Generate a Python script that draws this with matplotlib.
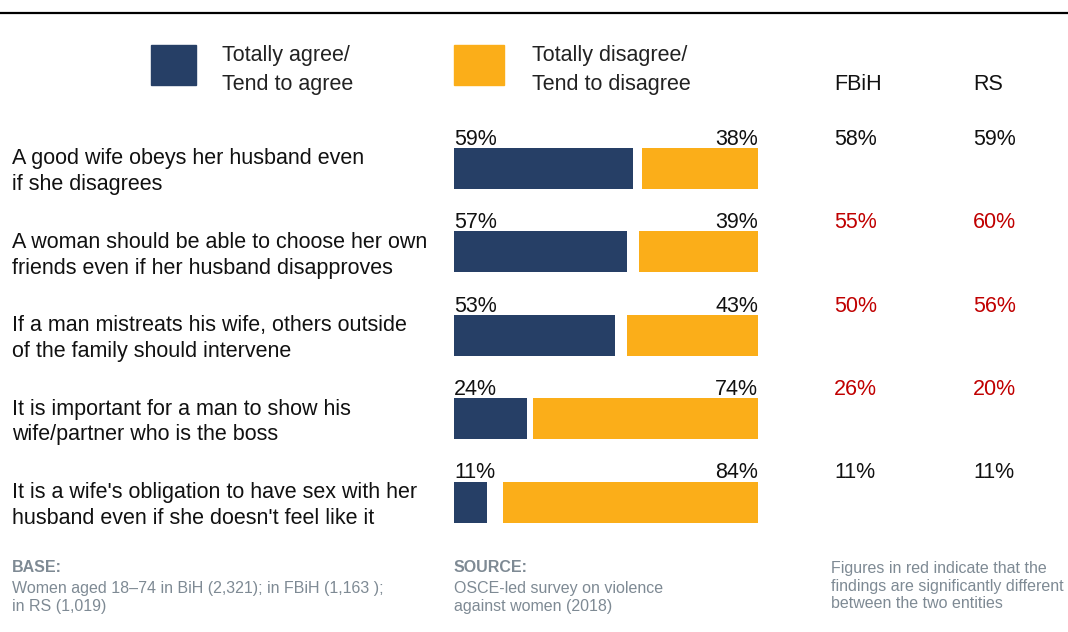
import matplotlib
matplotlib.use('Agg')
import matplotlib.pyplot as plt
from matplotlib.patches import Rectangle
from matplotlib.lines import Line2D
import matplotlib.transforms as mtransforms

plt.rcParams['font.family'] = ['Liberation Sans', 'DejaVu Sans']

# Survey statements and shares (%)
statements = [
    'A good wife obeys her husband even\nif she disagrees',
    'A woman should be able to choose her own\nfriends even if her husband disapproves',
    'If a man mistreats his wife, others outside\nof the family should intervene',
    'It is important for a man to show his\nwife/partner who is the boss',
    "It is a wife's obligation to have sex with her\nhusband even if she doesn't feel like it",
]
agree = [59, 57, 53, 24, 11]
disagree = [38, 39, 43, 74, 84]
fbih = [58, 55, 50, 26, 11]
rs = [59, 60, 56, 20, 11]
significant = [False, True, True, True, False]

NAVY = '#263F66'
ORANGE = '#FBAE19'
RED = '#C00000'
GREY = '#7E8A94'
INK = '#111111'
FS = 15.5
FS_NOTE = 11.5

W, H = 1068, 632
fig = plt.figure(figsize=(W / 100, H / 100), dpi=100)


def fx(px):
    return px / W


def fy(py):
    return 1 - py / H


# top rule
fig.add_artist(Line2D([0, 1], [fy(13), fy(13)], color='black', lw=1.6))

# bar panel: 0-100% across, one row per statement
pitch = 83.4
top = 168.5 - pitch / 2
ax = fig.add_axes([fx(454), fy(top + 5 * pitch), fx(758 - 454), 5 * pitch / H])
ax.set_xlim(0, 100)
ax.set_ylim(4.5, -0.5)
ax.axis('off')

rows = range(len(statements))
bh = 0.49
ax.barh(rows, agree, height=bh, color=NAVY)
ax.barh(rows, disagree, left=[100 - d for d in disagree], height=bh, color=ORANGE)

trans_row = mtransforms.blended_transform_factory(fig.transFigure, ax.transData)
for i in rows:
    ylab = i - bh / 2 - 0.04
    ax.text(0, ylab, f'{agree[i]}%', ha='left', va='baseline', fontsize=FS, color=INK)
    ax.text(100, ylab, f'{disagree[i]}%', ha='right', va='baseline', fontsize=FS, color=INK)
    fig.text(fx(12), i + 0.04, statements[i], transform=trans_row, ha='left', va='center',
             fontsize=FS, color=INK, linespacing=1.3)
    col = RED if significant[i] else INK
    fig.text(fx(834), ylab, f'{fbih[i]}%', transform=trans_row, ha='left',
             va='baseline', fontsize=FS, color=col)
    fig.text(fx(973), ylab, f'{rs[i]}%', transform=trans_row, ha='left',
             va='baseline', fontsize=FS, color=col)

# column headers
fig.text(fx(834), fy(84), 'FBiH', ha='left', va='center', fontsize=FS, color=INK)
fig.text(fx(973), fy(84), 'RS', ha='left', va='center', fontsize=FS, color=INK)

# legend
fig.add_artist(Rectangle((fx(151), fy(85)), fx(45), 40 / H, color=NAVY, transform=fig.transFigure))
fig.add_artist(Rectangle((fx(454), fy(85)), fx(50), 40 / H, color=ORANGE, transform=fig.transFigure))
fig.text(fx(222), fy(70), 'Totally agree/\nTend to agree', ha='left', va='center',
         fontsize=FS, color='#222222', linespacing=1.45)
fig.text(fx(532), fy(70), 'Totally disagree/\nTend to disagree', ha='left', va='center',
         fontsize=FS, color='#222222', linespacing=1.45)

# footer notes
fig.text(fx(12), fy(567), 'BASE:', ha='left', va='center', fontsize=FS_NOTE, color=GREY, weight='bold')
fig.text(fx(12), fy(597), 'Women aged 18\u201374 in BiH (2,321); in FBiH (1,163 );\nin RS (1,019)',
         ha='left', va='center', fontsize=FS_NOTE, color=GREY, linespacing=1.25)
fig.text(fx(454), fy(567), 'SOURCE:', ha='left', va='center', fontsize=FS_NOTE, color=GREY, weight='bold')
fig.text(fx(454), fy(597), 'OSCE-led survey on violence\nagainst women (2018)',
         ha='left', va='center', fontsize=FS_NOTE, color=GREY, linespacing=1.25)
fig.text(fx(831), fy(586), 'Figures in red indicate that the\nfindings are significantly different\nbetween the two entities',
         ha='left', va='center', fontsize=FS_NOTE, color=GREY, linespacing=1.22)

fig.savefig('out.png', dpi=100)
